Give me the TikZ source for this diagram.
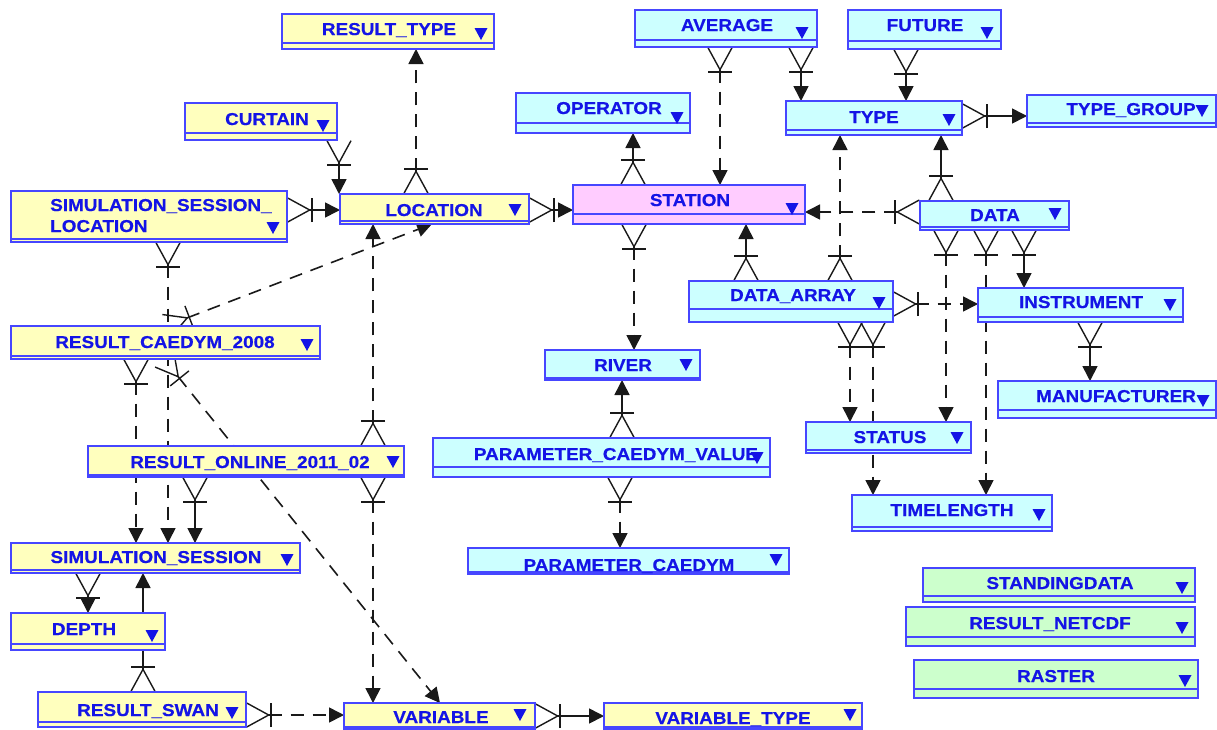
\documentclass[tikz,border=0pt]{standalone}
\usepackage{fontspec}
\newfontfamily\erfont{Liberation Sans}[FakeStretch=1.1,FakeBold=0.5]
\usetikzlibrary{arrows.meta,calc}
\pgfdeclarelayer{back}
\pgfdeclarelayer{bg}
\pgfsetlayers{back,bg,main}
\definecolor{ey}{RGB}{255,255,190}
\definecolor{ec}{RGB}{204,255,255}
\definecolor{ep}{RGB}{255,204,255}
\definecolor{eg}{RGB}{204,255,204}
\definecolor{eb}{RGB}{70,70,255}
\definecolor{et}{RGB}{20,20,230}
\definecolor{ln}{RGB}{25,25,25}
\tikzset{
  ebox/.style={draw=eb, line width=1.5pt, inner sep=0pt, outer sep=0pt},
  etext/.style={font=\erfont\bfseries\fontsize{17.2}{19}\selectfont, text=et, inner sep=0pt, anchor=base},
  rel/.style={draw=ln, line width=1.6pt,
    {Straight Barb[reversed,length=22pt,width=24pt,line width=1.4pt]Bar[width=24pt,line width=1.4pt]}-{Triangle[length=15pt,width=15pt]}},
  dsh/.style={dash pattern=on 13pt off 9pt}
}
% name, fill, x1, y1, x2, y2, strip, triangle dx, triangle dy
\newcommand\erbox[9]{%
  \node[ebox,fill=#2,minimum width={#5-#3},minimum height={#6-#4}] (#1) at ({(#3+#5)/2},{(#4+#6)/2}) {};
  \draw[eb,line width=1.2pt] ($(#1.south west)+(0,-#7)$) -- ($(#1.south east)+(0,-#7)$);
  \fill[et] ($(#1.south east)+(-#8,-#9)$) ++(-6.5,-6) -- ++(13,0) -- ++(-6.5,12) -- cycle;
}
\begin{document}
\begin{tikzpicture}[x=1pt,y=-1pt]
\useasboundingbox (0,0) rectangle (1217,729);
\begin{pgfonlayer}{back}
\fill[white] (0,0) rectangle (1217,729);
\end{pgfonlayer}
% yellow entities
\erbox{rtype}{ey}{282}{14}{494}{49}{6}{13}{15}
\node[etext] (t-rtype) at (389,35) {RESULT\_TYPE};
\erbox{curtain}{ey}{185}{103}{337}{140}{7}{14}{14}
\node[etext] (t-curtain) at (267,125) {CURTAIN};
\erbox{ssl}{ey}{11}{191}{287}{242}{3}{14}{14}
\node[etext,anchor=base west] (t-ssl1) at (50,211) {SIMULATION\_SESSION\_};
\node[etext,anchor=base west] (t-ssl2) at (50,232) {LOCATION};
\erbox{loc}{ey}{340}{194}{529}{224}{3}{14}{14}
\node[etext] (t-loc) at (434,216) {LOCATION};
\erbox{rc}{ey}{11}{326}{320}{359}{3}{13}{14}
\node[etext] (t-rc) at (165,348) {RESULT\_CAEDYM\_2008};
\erbox{ro}{ey}{88}{446}{404}{477}{2}{11}{15}
\node[etext] (t-ro) at (250,468) {RESULT\_ONLINE\_2011\_02};
\erbox{sim}{ey}{11}{543}{300}{573}{3}{13}{13}
\node[etext] (t-sim) at (156,563) {SIMULATION\_SESSION};
\erbox{depth}{ey}{11}{613}{165}{650}{6}{13}{14}
\node[etext] (t-depth) at (84,635) {DEPTH};
\erbox{rswan}{ey}{38}{692}{246}{727}{5}{14}{14}
\node[etext] (t-rswan) at (148,716) {RESULT\_SWAN};
\erbox{var}{ey}{344}{703}{535}{729}{2}{15}{14}
\node[etext] (t-var) at (441,723) {VARIABLE};
\erbox{vtype}{ey}{604}{703}{862}{729}{2}{12}{14}
\node[etext] (t-vtype) at (733,724) {VARIABLE\_TYPE};
% cyan entities
\erbox{pcaedym}{ec}{468}{548}{789}{574}{2}{13}{14}
\node[etext] (t-pcaedym) at (629,571) {PARAMETER\_CAEDYM};
\erbox{pcv}{ec}{433}{438}{770}{477}{10}{13}{19}
\node[etext] (t-pcv) at (616,460) {PARAMETER\_CAEDYM\_VALUE};
\erbox{river}{ec}{545}{350}{700}{380}{2}{14}{15}
\node[etext] (t-river) at (623,371) {RIVER};
\erbox{station}{ep}{573}{185}{805}{224}{10}{13}{15}
\node[etext] (t-station) at (690,206) {STATION};
\erbox{operator}{ec}{516}{93}{690}{133}{10}{13}{15}
\node[etext] (t-operator) at (609,114) {OPERATOR};
\erbox{average}{ec}{635}{10}{817}{47}{7}{15}{14}
\node[etext] (t-average) at (727,31) {AVERAGE};
\erbox{future}{ec}{848}{10}{1001}{49}{8}{14}{16}
\node[etext] (t-future) at (925,31) {FUTURE};
\erbox{type}{ec}{786}{101}{962}{135}{5}{13}{15}
\node[etext] (t-type) at (874,123) {TYPE};
\erbox{tgroup}{ec}{1027}{95}{1216}{127}{4}{14}{16}
\node[etext] (t-tgroup) at (1131,115) {TYPE\_GROUP};
\erbox{data}{ec}{920}{201}{1069}{230}{3}{14}{16}
\node[etext] (t-data) at (995,221) {DATA};
\erbox{darray}{ec}{689}{281}{893}{322}{13}{14}{19}
\node[etext] (t-darray) at (793,301) {DATA\_ARRAY};
\erbox{instr}{ec}{978}{288}{1183}{322}{5}{13}{17}
\node[etext] (t-instr) at (1081,308) {INSTRUMENT};
\erbox{manuf}{ec}{998}{381}{1216}{418}{8}{13}{17}
\node[etext] (t-manuf) at (1116,402) {MANUFACTURER};
\erbox{status}{ec}{806}{422}{971}{453}{3}{14}{15}
\node[etext] (t-status) at (890,443) {STATUS};
\erbox{tl}{ec}{852}{495}{1052}{531}{4}{13}{16}
\node[etext] (t-tl) at (952,516) {TIMELENGTH};
% green entities
\erbox{standing}{eg}{923}{568}{1195}{602}{6}{13}{14}
\node[etext] (t-standing) at (1060,589) {STANDINGDATA};
\erbox{netcdf}{eg}{906}{607}{1195}{646}{9}{13}{18}
\node[etext] (t-netcdf) at (1050,629) {RESULT\_NETCDF};
\erbox{raster}{eg}{914}{660}{1198}{698}{9}{13}{17}
\node[etext] (t-raster) at (1056,682) {RASTER};
% relationships
\begin{pgfonlayer}{bg}
\draw[rel,dsh] (loc.north -| 416,0) -- (rtype.south -| 416,0);
\draw[rel] (curtain.south -| 339,0) -- (loc.north -| 339,0);
\draw[rel] (ssl.east |- 0,210) -- (loc.west |- 0,210);
\draw[rel] (loc.east |- 0,210) -- (station.west |- 0,210);
\draw[rel] (station.north -| 633,0) -- (operator.south -| 633,0);
\draw[rel,dsh] (average.south -| 720,0) -- (station.north -| 720,0);
\draw[rel] (average.south -| 801,0) -- (type.north -| 801,0);
\draw[rel] (future.south -| 906,0) -- (type.north -| 906,0);
\draw[rel] (type.east |- 0,116) -- (tgroup.west |- 0,116);
\draw[rel] (data.north -| 941,0) -- (type.south -| 941,0);
\draw[rel,dsh] (darray.north -| 840,0) -- (type.south -| 840,0);
\draw[rel,dsh] (data.west |- 0,212) -- (station.east |- 0,212);
\draw[rel] (darray.north -| 746,0) -- (station.south -| 746,0);
\draw[rel,dsh] (station.south -| 634,0) -- (river.north -| 634,0);
\draw[rel] (pcv.north -| 622,0) -- (river.south -| 622,0);
\draw[rel,dsh] (pcv.south -| 620,0) -- (pcaedym.north -| 620,0);
\draw[rel,dsh] (darray.east |- 0,304) -- (instr.west |- 0,304);
\draw[rel,dsh] (data.south -| 946,0) -- (status.north -| 946,0);
\draw[rel,dsh] (data.south -| 986,0) -- (tl.north -| 986,0);
\draw[rel] (data.south -| 1024,0) -- (instr.north -| 1024,0);
\draw[rel] (instr.south -| 1090,0) -- (manuf.north -| 1090,0);
\draw[rel,dsh] (darray.south -| 850,0) -- (status.north -| 850,0);
\draw[rel,dsh] (darray.south -| 873,0) -- (tl.north -| 873,0);
\draw[rel,dsh] (ssl.south -| 168,0) -- (sim.north -| 168,0);
\draw[rel,dsh] (rc.north -| 166,0) -- (loc.south -| 432,0);
\draw[rel,dsh] (rc.south -| 164,0) -- (var.north -| 440,0);
\draw[rel,dsh] (rc.south -| 136,0) -- (sim.north -| 136,0);
\draw[rel] (ro.south -| 195,0) -- (sim.north -| 195,0);
\draw[rel,dsh] (ro.north -| 373,0) -- (loc.south -| 373,0);
\draw[rel,dsh] (ro.south -| 373,0) -- (var.north -| 373,0);
\draw[rel] (sim.south -| 88,0) -- (depth.north -| 88,0);
\draw[rel] (rswan.north -| 143,0) -- (sim.south -| 143,0);
\draw[rel,dsh] (rswan.east |- 0,715) -- (var.west |- 0,715);
\draw[rel] (var.east |- 0,716) -- (vtype.west |- 0,716);
\end{pgfonlayer}
\end{tikzpicture}
\end{document}
